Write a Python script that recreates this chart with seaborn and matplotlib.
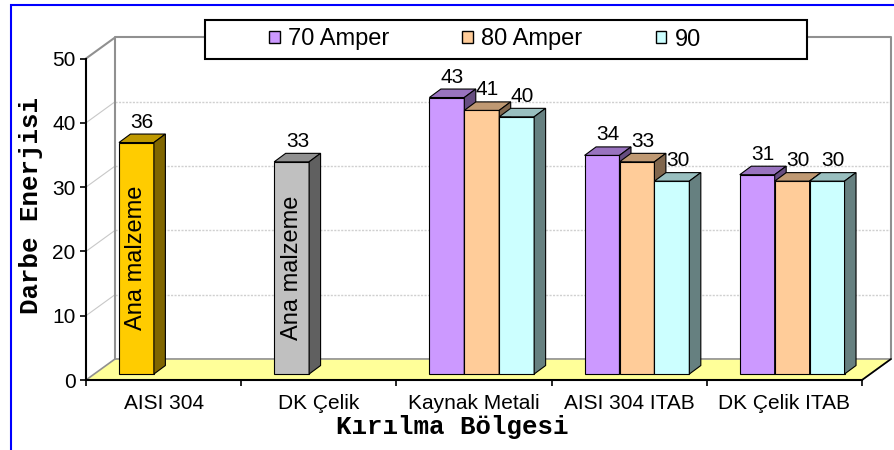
import matplotlib
matplotlib.use("Agg")
import matplotlib.pyplot as plt
from matplotlib.colors import to_rgb
from matplotlib.lines import Line2D
from matplotlib.patches import Patch, Polygon, Rectangle
import numpy as np
import pandas as pd
import seaborn as sns

# ---------------------------------------------------------------------------
# Data
# ---------------------------------------------------------------------------
categories = ["AISI 304", "DK Çelik", "Kaynak Metali", "AISI 304 ITAB", "DK Çelik ITAB"]
series = ["70 Amper", "80 Amper", "90"]
amp70 = [36, 33, 43, 34, 31]
amp80 = [None, None, 41, 33, 30]
amp90 = [None, None, 40, 30, 30]
base_material = ["AISI 304", "DK Çelik"]   # bars that are the parent metal
base_text = "Ana malzeme"

series_colors = ["#CC99FF", "#FFCC99", "#CCFFFF"]
base_colors = {"AISI 304": "#FFCC00", "DK Çelik": "#C0C0C0"}

rows = []
for s, vals in zip(series, [amp70, amp80, amp90]):
    for c, v in zip(categories, vals):
        if v is not None:
            rows.append({"bolge": c, "akim": s, "enerji": v})
df = pd.DataFrame(rows)

# pseudo-3D geometry (data units)
WALL_DX, WALL_DY = 0.187, 3.27     # depth of the chart box
BAR_DX, BAR_DY = 0.05, 0.93        # bars sit a little into the box
DEP_DX, DEP_DY = 0.074, 1.32       # depth of one bar
GROUP_W = 0.675


def shade(color, f):
    r, g, b = to_rgb(color)
    return (r * f, g * f, b * f)


sns.set_theme(style="ticks")
plt.rcParams["font.family"] = ["Liberation Sans", "DejaVu Sans"]
plt.rcParams["text.color"] = "black"
plt.rcParams["xtick.color"] = "black"
plt.rcParams["ytick.color"] = "black"
plt.rcParams["axes.labelcolor"] = "black"

fig = plt.figure(figsize=(8.95, 4.5), dpi=100)
ax = fig.add_axes([86 / 895, 70 / 450, 776 / 895, 321.5 / 450])

sns.barplot(
    data=df, x="bolge", y="enerji", hue="akim",
    order=categories, hue_order=series, palette=series_colors,
    width=GROUP_W, saturation=1, errorbar=None, legend=False,
    edgecolor="black", linewidth=0.8, ax=ax,
)
ax.set_xlim(-0.5, 4.5)
ax.set_ylim(0, 50)

# ---------------------------------------------------------------------------
# Walls and floor
# ---------------------------------------------------------------------------
xl, xr = -0.5, 4.5
ax.add_patch(Polygon([(xl, 0), (xr, 0), (xr + WALL_DX, WALL_DY), (xl + WALL_DX, WALL_DY)],
                     closed=True, fc="#FFFF99", ec="#909090", lw=1.2, zorder=2, clip_on=False))
wall = [(xl + WALL_DX, WALL_DY), (xl + WALL_DX, 50 + WALL_DY),
        (xr + WALL_DX, 50 + WALL_DY), (xr + WALL_DX, WALL_DY)]
ax.add_line(Line2D(*zip(*wall), color="#909090", lw=1.5, zorder=2, clip_on=False))
ax.add_line(Line2D([xl, xl + WALL_DX], [50, 50 + WALL_DY], color="#909090", lw=1.5,
                   zorder=2, clip_on=False))
ax.add_line(Line2D([xr, xr + WALL_DX], [0, WALL_DY], color="black", lw=1.2,
                   zorder=3, clip_on=False))
for v in range(10, 50, 10):
    ax.add_line(Line2D([xl + WALL_DX, xr + WALL_DX], [v + WALL_DY] * 2, color="#D0D0D0",
                       lw=1, ls=(0, (1.5, 1)), zorder=1, clip_on=False))
    ax.add_line(Line2D([xl, xl + WALL_DX], [v, v + WALL_DY], color="#C8C8C8",
                       lw=0.8, zorder=1, clip_on=False))

# ---------------------------------------------------------------------------
# Turn the flat bars into boxes
# ---------------------------------------------------------------------------
bars = [p for p in ax.patches
        if isinstance(p, Rectangle) and np.isfinite(p.get_height()) and p.get_height() > 0]
bars.sort(key=lambda p: p.get_x())
for i, p in enumerate(bars):
    bw, h = p.get_width(), p.get_height()
    center = p.get_x() + bw / 2
    cat = int(round(center))
    slot = int(round((center - cat) / bw)) + 1
    name = categories[cat]
    face = base_colors[name] if (slot == 0 and name in base_material) else series_colors[slot]

    x0, y0 = p.get_x() + BAR_DX, BAR_DY
    p.set_x(x0)
    p.set_y(y0)
    p.set_facecolor(face)
    p.set_zorder(10 + 3 * i)
    p.set_clip_on(False)

    top = [(x0, y0 + h), (x0 + bw, y0 + h), (x0 + bw + DEP_DX, y0 + h + DEP_DY),
           (x0 + DEP_DX, y0 + h + DEP_DY)]
    side = [(x0 + bw, y0), (x0 + bw + DEP_DX, y0 + DEP_DY),
            (x0 + bw + DEP_DX, y0 + h + DEP_DY), (x0 + bw, y0 + h)]
    ax.add_patch(Polygon(top, closed=True, fc=shade(face, 0.75), ec="black", lw=0.8,
                         zorder=11 + 3 * i, clip_on=False))
    ax.add_patch(Polygon(side, closed=True, fc=shade(face, 0.5), ec="black", lw=0.8,
                         zorder=11 + 3 * i, clip_on=False))

    ax.text(x0 + bw / 2 + DEP_DX / 2, y0 + h + DEP_DY + 1.0, f"{h:g}",
            ha="center", va="baseline", fontsize=15, zorder=100, clip_on=False)
    if slot == 0 and name in base_material:
        ax.text(x0 + bw / 2, y0 + h / 2, base_text, rotation=90, ha="center",
                va="center", fontsize=17, zorder=100)

# ---------------------------------------------------------------------------
# Axes, ticks, labels
# ---------------------------------------------------------------------------
for s in ["top", "right"]:
    ax.spines[s].set_visible(False)
for s in ["left", "bottom"]:
    ax.spines[s].set_color("black")
    ax.spines[s].set_linewidth(1.5)
    ax.spines[s].set_zorder(5)

ax.set_yticks(range(0, 51, 10))
ax.tick_params(axis="y", left=True, length=4.5, width=1.2, labelsize=15, pad=3)
ax.set_xticks(range(len(categories)))
ax.set_xticklabels(categories)
ax.set_xticks(np.arange(-0.5, len(categories), 1), minor=True)
ax.tick_params(axis="x", which="major", bottom=True, length=0, labelsize=15, pad=10)
ax.tick_params(axis="x", which="minor", bottom=True, length=4.5, width=1.2)

mono = ["Liberation Mono", "DejaVu Sans Mono"]
ax.set_xlabel("Kırılma Bölgesi", fontfamily=mono, fontweight="bold", fontsize=18.5)
ax.xaxis.label.set_va("center")
ax.xaxis.set_label_coords(0.472, -0.146)
ax.set_ylabel("Darbe Enerjisi", fontfamily=mono, fontweight="bold", fontsize=18.5)
ax.yaxis.label.set_va("center")
ax.yaxis.set_label_coords(-0.071, 0.544)

# ---------------------------------------------------------------------------
# Legend and outer frame
# ---------------------------------------------------------------------------
fig.add_artist(Rectangle((205 / 895, 1 - 59 / 450), 602 / 895, 39 / 450,
                         transform=fig.transFigure, fc="white", ec="black", lw=1.5, zorder=4))
handles = [Patch(fc=c, ec="black", lw=1) for c in series_colors]
leg = fig.legend(handles, series, loc="center left", bbox_to_anchor=(269 / 895, 1 - 39.5 / 450),
                 ncol=3, frameon=False, fontsize=17, handlelength=0.45, handleheight=0.45,
                 handletextpad=0.35, columnspacing=3.1, borderpad=0, borderaxespad=0)
leg.set_zorder(5)

fig.add_artist(Rectangle((11 / 895, -0.05), 1.0, 1.05 - 4.5 / 450, transform=fig.transFigure,
                         fill=False, ec="#0000FF", lw=1.5, zorder=6))

fig.savefig("out.png", dpi=100)
